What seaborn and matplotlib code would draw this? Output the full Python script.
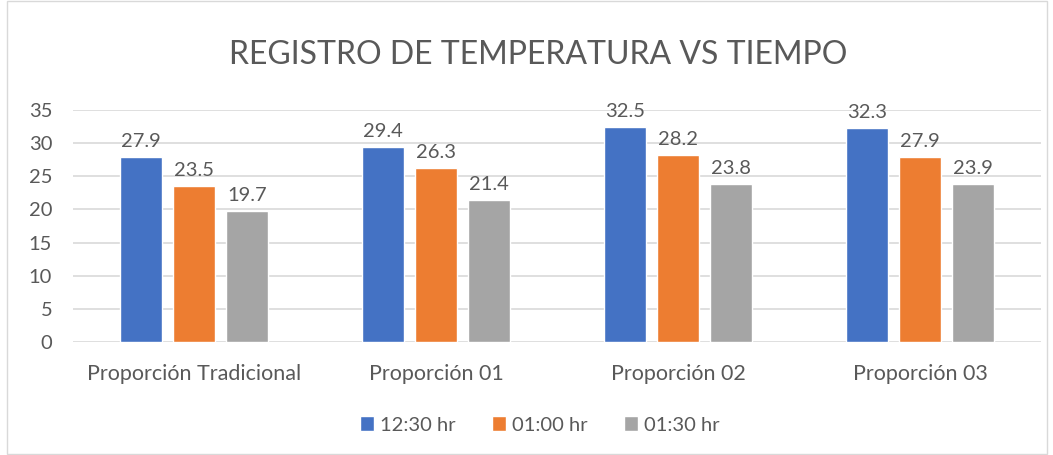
import matplotlib
matplotlib.use("Agg")
import matplotlib.pyplot as plt
import seaborn as sns
import pandas as pd
from matplotlib.patches import Rectangle

# datos
categorias = ["Proporción Tradicional", "Proporción 01", "Proporción 02", "Proporción 03"]
series = ["12:30 hr", "01:00 hr", "01:30 hr"]
v_1230 = [27.9, 29.4, 32.5, 32.3]
v_0100 = [23.5, 26.3, 28.2, 27.9]
v_0130 = [19.7, 21.4, 23.8, 23.9]
colores = ["#4472C4", "#ED7D31", "#A5A5A5"]

df = pd.DataFrame({
    "cat": categorias * 3,
    "serie": [s for s in series for _ in categorias],
    "valor": v_1230 + v_0100 + v_0130,
})

sns.set_theme(style="white")
plt.rcParams["font.family"] = ["Lato", "DejaVu Sans"]
gris = "#595959"

fig = plt.figure(figsize=(10.53, 4.55), dpi=100)
ax = fig.add_axes([73 / 1053, 113 / 455, 968 / 1053, 232 / 455])

sns.barplot(data=df, x="cat", y="valor", hue="serie", palette=colores,
            width=0.657, gap=0.2, saturation=1, ax=ax, legend=True)

for cont in ax.containers:
    ax.bar_label(cont, fmt="%.1f", padding=5, fontsize=14.5, color=gris)

ax.set_ylim(0, 35)
ax.set_xlim(-0.5, 3.5)
ax.set_yticks(range(0, 36, 5))
ax.grid(axis="y", color="#D9D9D9", linewidth=1.2)
ax.set_axisbelow(True)
for s in ["top", "right", "left", "bottom"]:
    ax.spines[s].set_visible(False)
ax.tick_params(axis="both", length=0, labelsize=14.5, colors=gris)
ax.tick_params(axis="x", labelsize=15.5)
ax.tick_params(axis="y", pad=15)
ax.tick_params(axis="x", pad=16)
ax.set_xlabel("")
ax.set_ylabel("")

ax.legend(loc="center", bbox_to_anchor=(540 / 1053, 1 - 425 / 455),
          bbox_transform=fig.transFigure, ncol=3, frameon=False,
          fontsize=14.5, labelcolor=gris, handlelength=0.7, handleheight=0.7,
          handletextpad=0.3, columnspacing=1.8)

fig.text(538 / 1053, 1 - 55 / 455, "REGISTRO DE TEMPERATURA VS TIEMPO",
         ha="center", va="center", fontsize=23, color=gris)

fig.patches.append(Rectangle((7 / 1053, 0.002), 1040 / 1053, 0.996, transform=fig.transFigure,
                             fill=False, edgecolor="#D9D9D9", linewidth=1))

fig.savefig("out.png", dpi=100)
